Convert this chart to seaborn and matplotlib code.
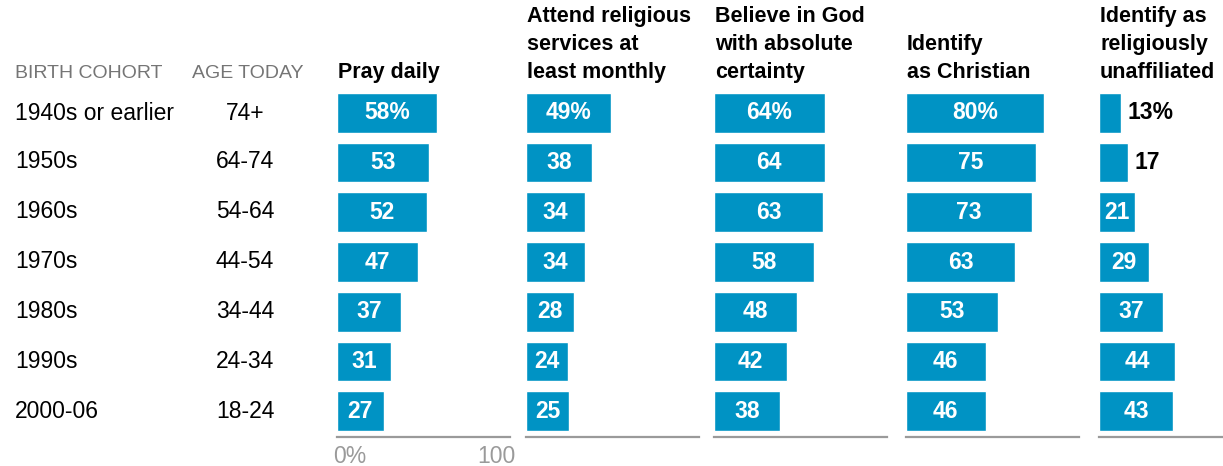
import matplotlib
matplotlib.use("Agg")
import matplotlib.pyplot as plt
import seaborn as sns
import pandas as pd

cohorts = ["1940s or earlier", "1950s", "1960s", "1970s", "1980s", "1990s", "2000-06"]
ages = ["74+", "64-74", "54-64", "44-54", "34-44", "24-34", "18-24"]
headers = ["Pray daily",
           "Attend religious\nservices at\nleast monthly",
           "Believe in God\nwith absolute\ncertainty",
           "Identify\nas Christian",
           "Identify as\nreligiously\nunaffiliated"]
pray = [58, 53, 52, 47, 37, 31, 27]
attend = [49, 38, 34, 34, 28, 24, 25]
god = [64, 64, 63, 58, 48, 42, 38]
christian = [80, 75, 73, 63, 53, 46, 46]
unaffiliated = [13, 17, 21, 29, 37, 44, 43]
series = [pray, attend, god, christian, unaffiliated]

sns.set_theme(style="white")
plt.rcParams['font.family'] = ['Liberation Sans', 'DejaVu Sans']

W, H = 1223, 466
fig = plt.figure(figsize=(W / 100, H / 100), dpi=100)

BAR = "#0093C4"
lefts = [337, 526, 714, 906, 1099]
panel_w = 173
ax_top, ax_bot = 88, 437

def fx(px):
    return px / W

def fy(py):
    return 1 - py / H

for i, (vals, left) in enumerate(zip(series, lefts)):
    ax = fig.add_axes([fx(left), fy(ax_bot), fx(panel_w), (ax_bot - ax_top) / H])
    df = pd.DataFrame({"cohort": cohorts, "value": vals})
    sns.barplot(data=df, y="cohort", x="value", orient="h", color=BAR,
                saturation=1, width=0.8, ax=ax, order=cohorts)
    ax.set_xlim(0, 100)
    ax.set_ylim(6.52, -0.5)
    ax.set_xlabel("")
    ax.set_ylabel("")
    ax.set_yticks([])
    for s in ["top", "right", "left"]:
        ax.spines[s].set_visible(False)
    ax.spines["bottom"].set_color("#9a9a9a")
    ax.spines["bottom"].set_linewidth(1.6)
    ax.set_xticks([])
    if i == 0:
        ax.text(-2.5, -0.055, "0%", transform=ax.get_xaxis_transform(),
                ha="left", va="center", fontsize=16.5, color="#9a9a9a")
        ax.text(103, -0.055, "100", transform=ax.get_xaxis_transform(),
                ha="right", va="center", fontsize=16.5, color="#9a9a9a")
    for j, v in enumerate(vals):
        txt = f"{v}%" if j == 0 else f"{v}"
        if v < 20:
            ax.text(v + 3.5, j, txt, ha="left", va="center", color="black",
                    fontsize=16.5, fontweight="bold")
        else:
            ax.text(v / 2, j, txt, ha="center", va="center", color="white",
                    fontsize=16.5, fontweight="bold")
    fig.text(fx(left + 1), fy(78), headers[i], ha="left", va="baseline",
             fontsize=15.5, fontweight="bold", color="black", linespacing=1.45)

# left-hand labels
fig.text(fx(15), fy(78), "BIRTH COHORT", ha="left", va="baseline",
         fontsize=14, color="#757575")
fig.text(fx(248), fy(78), "AGE TODAY", ha="center", va="baseline",
         fontsize=14, color="#757575")
row_y = [113, 162, 212, 262, 311, 361, 411]
for c, a, yy in zip(cohorts, ages, row_y):
    fig.text(fx(15), fy(yy), c, ha="left", va="center", fontsize=16.5, color="black")
    fig.text(fx(245), fy(yy), a, ha="center", va="center", fontsize=16.5, color="black")

fig.savefig("out.png", dpi=100)
